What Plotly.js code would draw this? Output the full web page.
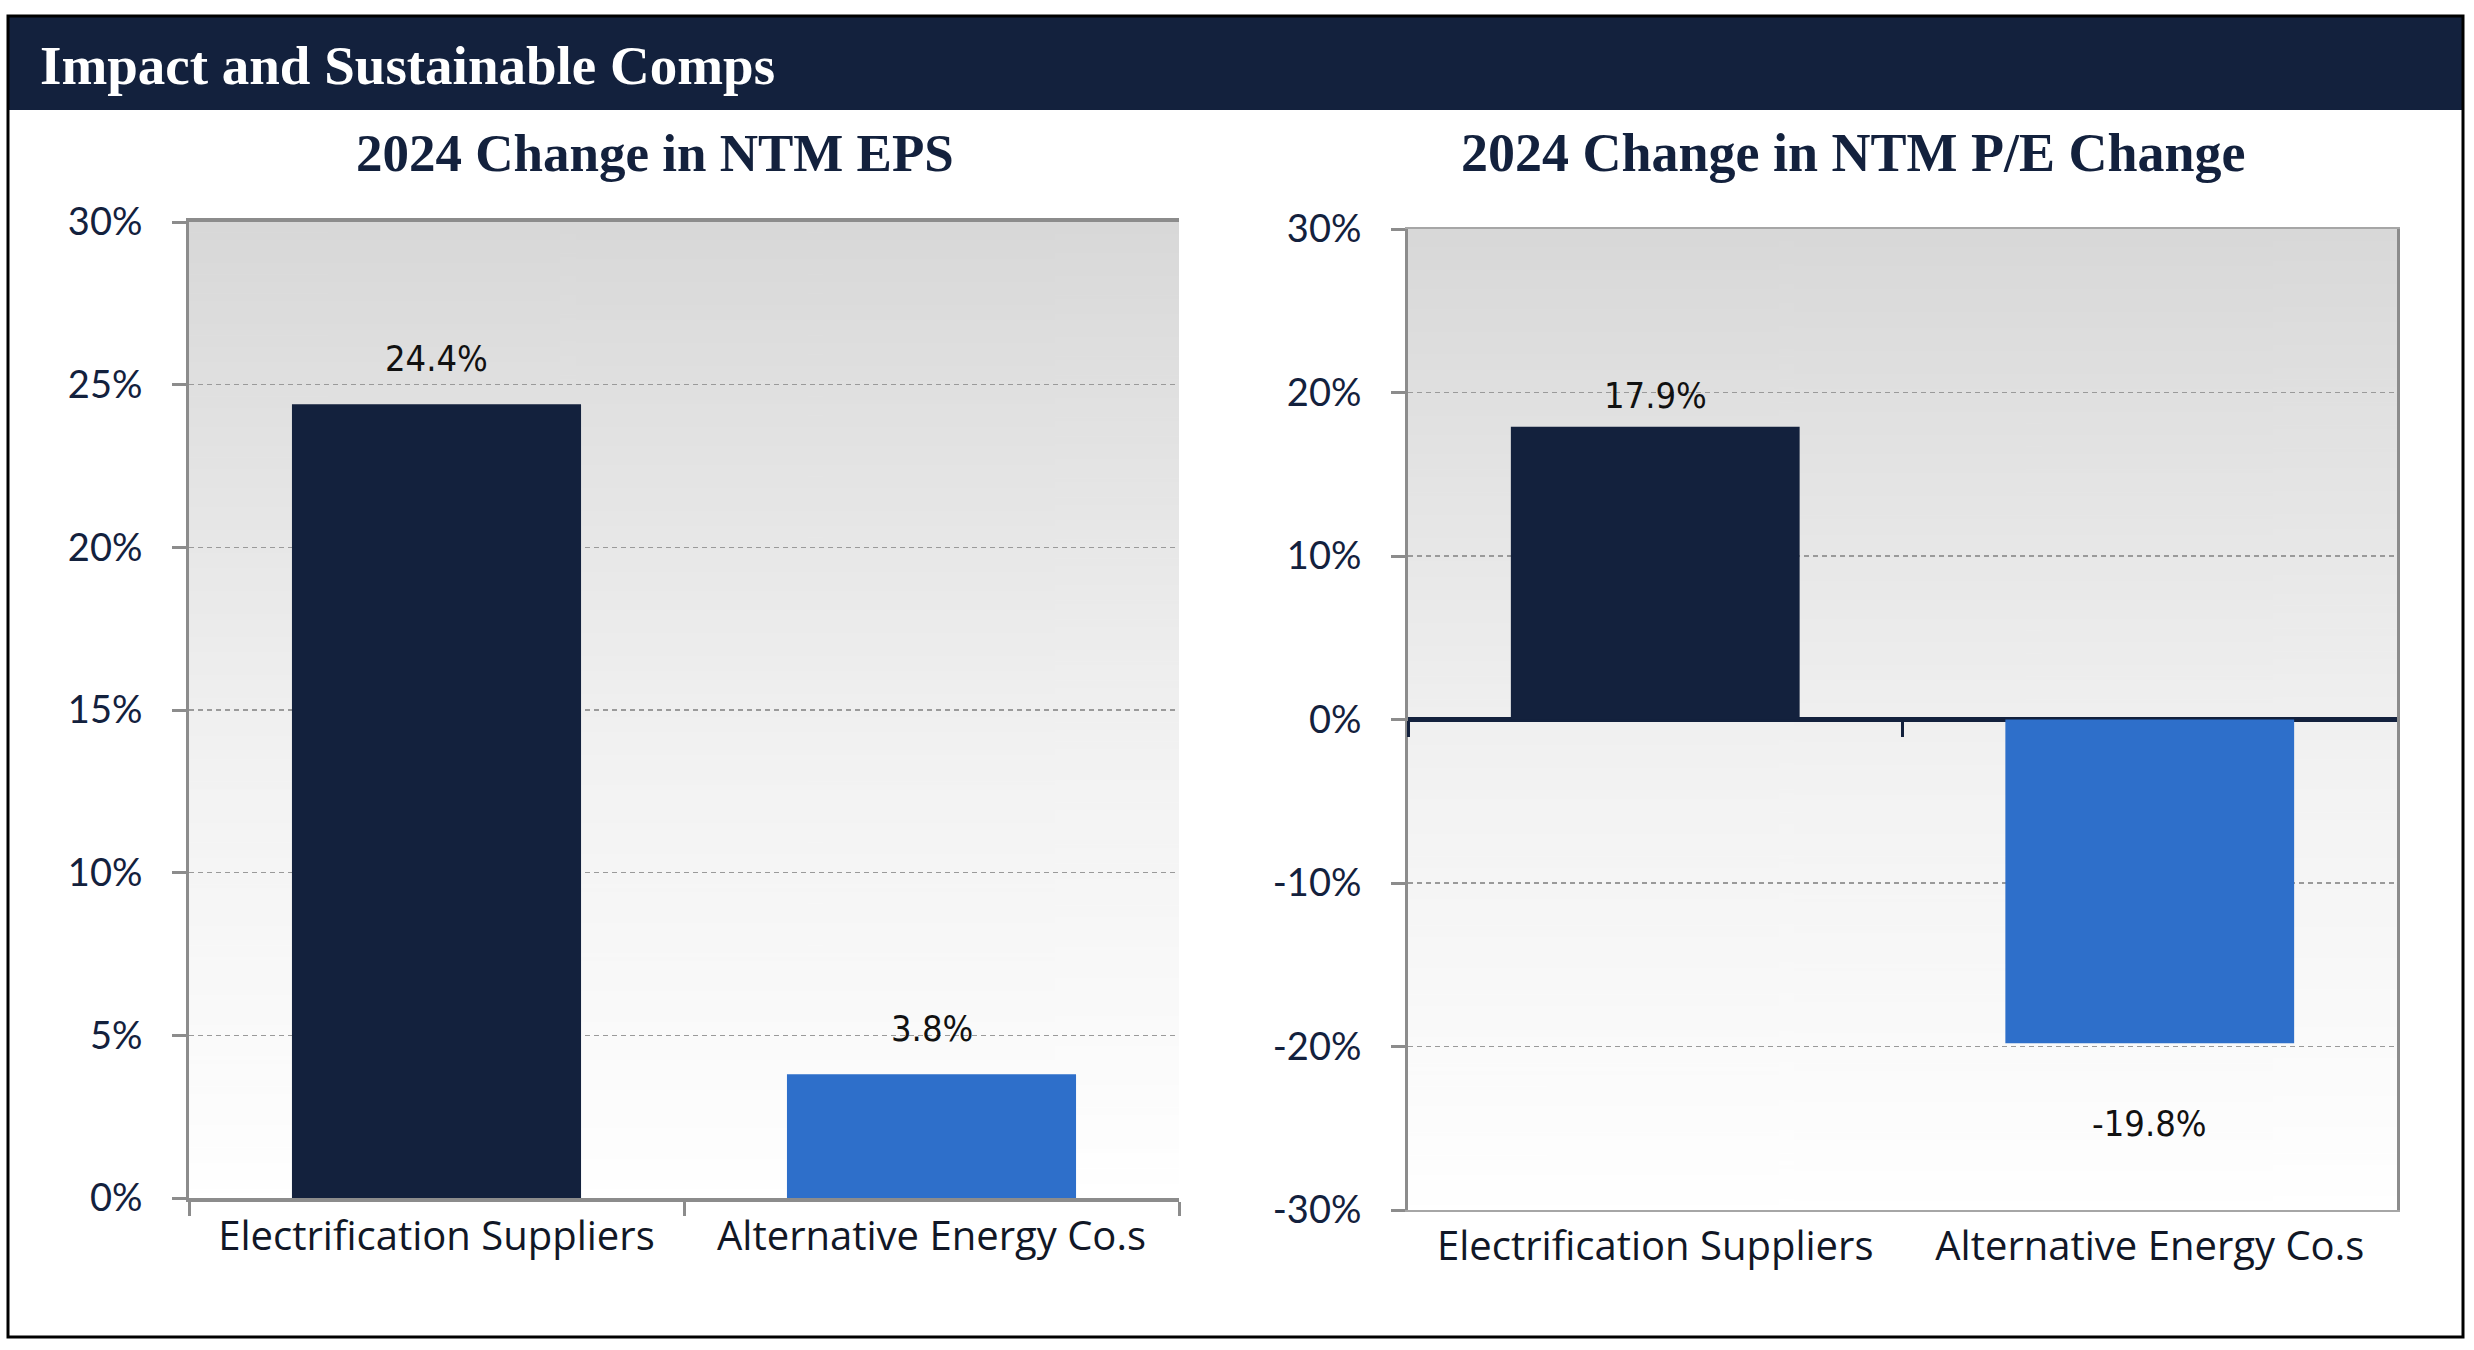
<!DOCTYPE html>
<html>
<head>
<meta charset="utf-8">
<script src="https://cdn.plot.ly/plotly-3.0.1.min.js"></script>
<style>
  html, body { margin: 0; padding: 0; background: #ffffff; }
  #chart { width: 2474px; height: 1350px; }
</style>
</head>
<body>
<div id="chart"></div>
<script>
// ---------------- data ----------------
const mainTitle = 'Impact and Sustainable Comps';
const leftTitle = '2024 Change in NTM EPS';
const rightTitle = '2024 Change in NTM P/E Change';
const categories = ['Electrification Suppliers', 'Alternative Energy Co.s'];
const epsChange = [24.4, 3.8];     // %
const peChange = [17.9, -19.8];    // %
const barColors = ['#13213d', '#2e6fca'];
const epsTickVals = [0, 5, 10, 15, 20, 25, 30];
const epsTickText = ['0%', '5%', '10%', '15%', '20%', '25%', '30%'];
const peTickVals = [-30, -20, -10, 0, 10, 20, 30];
const peTickText = ['-30%', '-20%', '-10%', '0%', '10%', '20%', '30%'];
const epsRange = [0, 30];
const peRange = [-30, 30];

// ---------------- layout helpers ----------------
const W = 2474, H = 1350;
const px = v => v / W;
const py = v => 1 - v / H;

const NAVY = '#13213d';
const AXIS_GRAY = '#8c8c8c';
const tickFont = { family: 'Lato, "Open Sans", sans-serif', size: 38, color: NAVY };
const catFont = { family: '"Open Sans", Lato, sans-serif', size: 40, color: '#111726' };
const labelFont = { family: '"DejaVu Sans Condensed", "Liberation Sans Narrow", "Liberation Sans", sans-serif', size: 36, color: '#111111' };
const serifBold = '"Liberation Serif", "DejaVu Serif", serif';

const leftX = [px(189), px(1179)];
const leftY = [py(1198), py(222)];
const rightX = [px(1408), px(2397)];
const rightY = [py(1210), py(229)];

// gradient background image
function gradientURL() {
  const c = document.createElement('canvas');
  c.width = 4; c.height = 512;
  const g = c.getContext('2d');
  const grd = g.createLinearGradient(0, 0, 0, 512);
  grd.addColorStop(0, '#d8d8d8');
  grd.addColorStop(0.55, '#f2f2f2');
  grd.addColorStop(1, '#ffffff');
  g.fillStyle = grd;
  g.fillRect(0, 0, 4, 512);
  return c.toDataURL('image/png');
}
const grad = gradientURL();

const fmt = v => v.toFixed(1) + '%';

const traces = [
  {
    type: 'bar', x: categories, y: epsChange, xaxis: 'x', yaxis: 'y',
    marker: { color: barColors }, hoverinfo: 'skip', showlegend: false
  },
  {
    type: 'bar', x: categories, y: peChange, xaxis: 'x2', yaxis: 'y2',
    marker: { color: barColors }, hoverinfo: 'skip', showlegend: false
  },
  {
    type: 'scatter', mode: 'markers', x: categories, y: peChange, xaxis: 'x3', yaxis: 'y2',
    marker: { opacity: 0 }, hoverinfo: 'skip', showlegend: false
  }
];

const annotations = [
  { text: '<b>' + mainTitle + '</b>', xref: 'paper', yref: 'paper', x: px(38), y: py(66),
    xanchor: 'left', yanchor: 'middle', showarrow: false,
    font: { family: serifBold, size: 55, color: '#ffffff' } },
  { text: '<b>' + leftTitle + '</b>', xref: 'paper', yref: 'paper', x: px(655), y: py(153),
    xanchor: 'center', yanchor: 'middle', showarrow: false,
    font: { family: serifBold, size: 53, color: NAVY } },
  { text: '<b>' + rightTitle + '</b>', xref: 'paper', yref: 'paper', x: px(1853), y: py(153),
    xanchor: 'center', yanchor: 'middle', showarrow: false,
    font: { family: serifBold, size: 54, color: NAVY } }
];
categories.forEach((c, i) => {
  annotations.push({ text: fmt(epsChange[i]), xref: 'x', yref: 'y', x: c, y: epsChange[i],
    yanchor: 'middle', yshift: 46, showarrow: false, font: labelFont });
  const v = peChange[i];
  annotations.push({ text: fmt(v), xref: 'x2', yref: 'y2', x: c, y: v,
    yanchor: 'middle', yshift: v >= 0 ? 31 : -80, showarrow: false, font: labelFont });
});

const layout = {
  width: W, height: H,
  margin: { l: 0, r: 0, t: 0, b: 0 },
  paper_bgcolor: '#ffffff',
  plot_bgcolor: 'rgba(0,0,0,0)',
  bargap: 0.416,
  showlegend: false,
  xaxis: {
    domain: leftX, anchor: 'y', type: 'category', categoryarray: categories,
    tickson: 'boundaries', ticks: 'outside', ticklen: 14, tickwidth: 3, tickcolor: AXIS_GRAY,
    showline: true, linecolor: AXIS_GRAY, linewidth: 4, mirror: true,
    showgrid: false, tickfont: catFont, fixedrange: true
  },
  yaxis: {
    domain: leftY, anchor: 'x', range: epsRange, tickvals: epsTickVals, ticktext: epsTickText,
    ticks: 'outside', ticklen: 14, tickwidth: 3, tickcolor: AXIS_GRAY,
    showline: true, linecolor: AXIS_GRAY, linewidth: 3,
    showgrid: true, gridcolor: '#9a9a9a', gridwidth: 1.5, griddash: '5px,4px',
    zeroline: false, tickfont: tickFont, ticklabelstandoff: 22, fixedrange: true
  },
  xaxis2: {
    domain: rightX, anchor: 'y2', type: 'category', categoryarray: categories,
    ticks: '', showline: true, linecolor: '#a6a6a6', linewidth: 2, mirror: true,
    showgrid: false, tickfont: catFont, fixedrange: true
  },
  xaxis3: {
    overlaying: 'x2', anchor: 'free', position: (rightY[0] + rightY[1]) / 2,
    type: 'category', categoryarray: categories, range: [-0.5, categories.length - 0.5],
    tickson: 'boundaries', ticks: 'outside', ticklen: 16, tickwidth: 3, tickcolor: NAVY,
    showticklabels: false, showline: false, showgrid: false, fixedrange: true
  },
  yaxis2: {
    domain: rightY, anchor: 'x2', range: peRange, tickvals: peTickVals, ticktext: peTickText,
    ticks: 'outside', ticklen: 14, tickwidth: 3, tickcolor: AXIS_GRAY,
    showline: true, linecolor: AXIS_GRAY, linewidth: 3, mirror: true,
    showgrid: true, gridcolor: '#9a9a9a', gridwidth: 1.5, griddash: '5px,4px',
    zeroline: true, zerolinecolor: NAVY, zerolinewidth: 5,
    tickfont: tickFont, ticklabelstandoff: 22, fixedrange: true
  },
  shapes: [
    { type: 'rect', xref: 'paper', yref: 'paper', x0: px(8), x1: px(2463), y0: py(1337), y1: py(16),
      line: { color: '#000000', width: 3 }, fillcolor: 'rgba(0,0,0,0)', layer: 'above' },
    { type: 'rect', xref: 'paper', yref: 'paper', x0: px(8), x1: px(2463), y0: py(110), y1: py(16),
      line: { width: 0 }, fillcolor: NAVY, layer: 'below' }
  ],
  images: [
    { source: grad, xref: 'paper', yref: 'paper', x: leftX[0], y: leftY[1],
      sizex: leftX[1] - leftX[0], sizey: leftY[1] - leftY[0], sizing: 'stretch',
      xanchor: 'left', yanchor: 'top', layer: 'below' },
    { source: grad, xref: 'paper', yref: 'paper', x: rightX[0], y: rightY[1],
      sizex: rightX[1] - rightX[0], sizey: rightY[1] - rightY[0], sizing: 'stretch',
      xanchor: 'left', yanchor: 'top', layer: 'below' }
  ],
  annotations: annotations
};

Plotly.newPlot('chart', traces, layout, { displayModeBar: false, staticPlot: true });
</script>
</body>
</html>
